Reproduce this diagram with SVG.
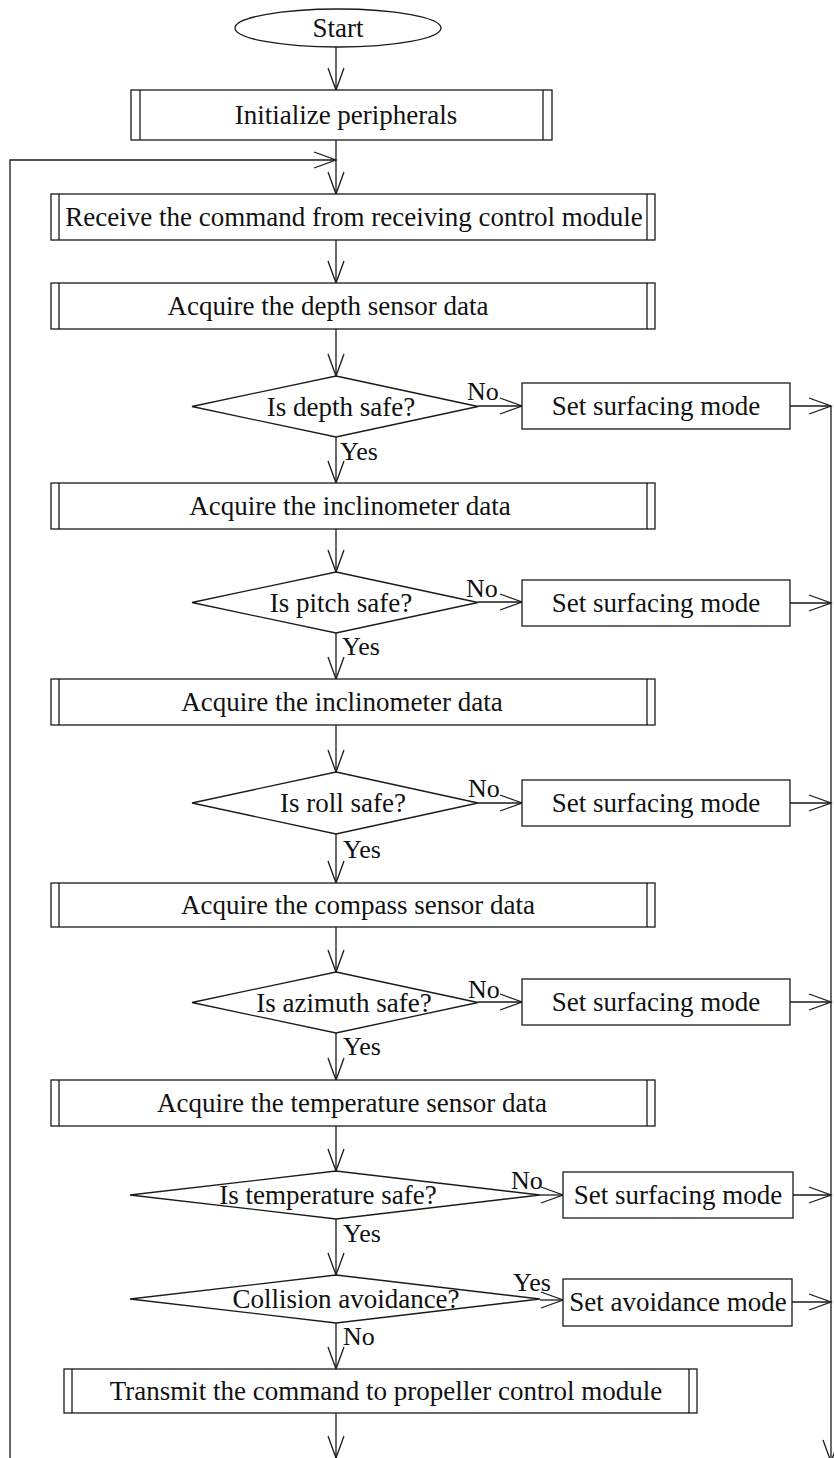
<svg xmlns="http://www.w3.org/2000/svg" width="834" height="1458" viewBox="0 0 834 1458">
  <defs>
    <style>
      .shape { fill: #ffffff; stroke: #1a1a1a; stroke-width: 1.3; }
      .bar { fill: none; stroke: #1a1a1a; stroke-width: 1.3; }
      .txt { font-family: "Liberation Serif", "Times New Roman", serif; font-size: 27px; fill: #111111; text-anchor: middle; }
      .lbl { font-family: "Liberation Serif", "Times New Roman", serif; font-size: 26px; fill: #111111; }
      .conn { fill: none; stroke: #1a1a1a; stroke-width: 1.3; }
    </style>
    <marker id="arrow" markerUnits="userSpaceOnUse" markerWidth="30" markerHeight="20" viewBox="-24 -10 30 20" refX="0" refY="0" orient="auto" overflow="visible">
      <path d="M-22,-8 L0,0 L-22,8" fill="none" stroke="#1a1a1a" stroke-width="1.3"/>
    </marker>
  </defs>

  <rect x="0" y="0" width="834" height="1458" fill="#ffffff"/>

  <!-- connectors -->
  <g id="connectors" class="conn">
    <line x1="336" y1="47" x2="336" y2="90" marker-end="url(#arrow)"/>
    <line x1="336" y1="140" x2="336" y2="194" marker-end="url(#arrow)"/>
    <polyline points="10,1458 10,160 336,160" marker-end="url(#arrow)"/>
    <line x1="336" y1="240" x2="336" y2="283" marker-end="url(#arrow)"/>
    <line x1="336" y1="329" x2="336" y2="376" marker-end="url(#arrow)"/>
    <line x1="336" y1="437" x2="336" y2="483" marker-end="url(#arrow)"/>
    <line x1="336" y1="529" x2="336" y2="572" marker-end="url(#arrow)"/>
    <line x1="336" y1="633" x2="336" y2="679" marker-end="url(#arrow)"/>
    <line x1="336" y1="725" x2="336" y2="772" marker-end="url(#arrow)"/>
    <line x1="336" y1="834" x2="336" y2="883" marker-end="url(#arrow)"/>
    <line x1="336" y1="927" x2="336" y2="972" marker-end="url(#arrow)"/>
    <line x1="336" y1="1033" x2="336" y2="1080" marker-end="url(#arrow)"/>
    <line x1="336" y1="1126" x2="336" y2="1171" marker-end="url(#arrow)"/>
    <line x1="336" y1="1219" x2="336" y2="1275" marker-end="url(#arrow)"/>
    <line x1="336" y1="1323" x2="336" y2="1369" marker-end="url(#arrow)"/>
    <line x1="336" y1="1413" x2="336" y2="1458" marker-end="url(#arrow)"/>

    <!-- branches to the mode boxes -->
    <line x1="478" y1="406" x2="522" y2="406" marker-end="url(#arrow)"/>
    <line x1="478" y1="602" x2="522" y2="602" marker-end="url(#arrow)"/>
    <line x1="478" y1="803" x2="522" y2="803" marker-end="url(#arrow)"/>
    <line x1="478" y1="1002" x2="522" y2="1002" marker-end="url(#arrow)"/>
    <line x1="540" y1="1195" x2="563" y2="1195" marker-end="url(#arrow)"/>
    <line x1="540" y1="1300" x2="563" y2="1300" marker-end="url(#arrow)"/>

    <!-- mode boxes into the right-hand return line -->
    <line x1="790" y1="406" x2="831" y2="406" marker-end="url(#arrow)"/>
    <line x1="790" y1="603" x2="831" y2="603" marker-end="url(#arrow)"/>
    <line x1="790" y1="803" x2="831" y2="803" marker-end="url(#arrow)"/>
    <line x1="790" y1="1002" x2="831" y2="1002" marker-end="url(#arrow)"/>
    <line x1="793" y1="1195" x2="831" y2="1195" marker-end="url(#arrow)"/>
    <line x1="792" y1="1302" x2="831" y2="1302" marker-end="url(#arrow)"/>
    <line x1="831" y1="406" x2="831" y2="1462" marker-end="url(#arrow)"/>
  </g>

  <!-- terminal -->
  <g id="start">
    <ellipse class="shape" cx="338" cy="28" rx="103" ry="19"/>
    <text class="txt" x="338" y="37">Start</text>
  </g>

  <!-- predefined processes -->
  <g id="init">
    <rect class="shape" x="131" y="90" width="421" height="50"/>
    <line class="bar" x1="140" y1="90" x2="140" y2="140"/>
    <line class="bar" x1="543" y1="90" x2="543" y2="140"/>
    <text class="txt" x="346" y="124">Initialize peripherals</text>
  </g>

  <g id="receive">
    <rect class="shape" x="51" y="194" width="604" height="46"/>
    <line class="bar" x1="59" y1="194" x2="59" y2="240"/>
    <line class="bar" x1="647" y1="194" x2="647" y2="240"/>
    <text class="txt" x="354" y="226">Receive the command from receiving control module</text>
  </g>

  <g id="depth-data">
    <rect class="shape" x="51" y="283" width="604" height="46"/>
    <line class="bar" x1="59" y1="283" x2="59" y2="329"/>
    <line class="bar" x1="647" y1="283" x2="647" y2="329"/>
    <text class="txt" x="328" y="315">Acquire the depth sensor data</text>
  </g>

  <g id="depth-check">
    <polygon class="shape" points="336,376 478,406.5 336,437 192,406.5"/>
    <text class="txt" x="341" y="416">Is depth safe?</text>
    <text class="lbl" x="467" y="400">No</text>
    <text class="lbl" x="340" y="460">Yes</text>
  </g>
  <g id="surface-1">
    <rect class="shape" x="522" y="383" width="268" height="46"/>
    <text class="txt" x="656" y="415">Set surfacing mode</text>
  </g>

  <g id="incl-data-1">
    <rect class="shape" x="51" y="483" width="604" height="46"/>
    <line class="bar" x1="59" y1="483" x2="59" y2="529"/>
    <line class="bar" x1="647" y1="483" x2="647" y2="529"/>
    <text class="txt" x="350" y="515">Acquire the inclinometer data</text>
  </g>

  <g id="pitch-check">
    <polygon class="shape" points="336,572 478,602.5 336,633 192,602.5"/>
    <text class="txt" x="341" y="612">Is pitch safe?</text>
    <text class="lbl" x="466" y="597">No</text>
    <text class="lbl" x="342" y="655">Yes</text>
  </g>
  <g id="surface-2">
    <rect class="shape" x="522" y="580" width="268" height="46"/>
    <text class="txt" x="656" y="612">Set surfacing mode</text>
  </g>

  <g id="incl-data-2">
    <rect class="shape" x="51" y="679" width="604" height="46"/>
    <line class="bar" x1="59" y1="679" x2="59" y2="725"/>
    <line class="bar" x1="647" y1="679" x2="647" y2="725"/>
    <text class="txt" x="342" y="711">Acquire the inclinometer data</text>
  </g>

  <g id="roll-check">
    <polygon class="shape" points="336,772 478,803 336,834 192,803"/>
    <text class="txt" x="343" y="812">Is roll safe?</text>
    <text class="lbl" x="468" y="797">No</text>
    <text class="lbl" x="343" y="858">Yes</text>
  </g>
  <g id="surface-3">
    <rect class="shape" x="522" y="780" width="268" height="46"/>
    <text class="txt" x="656" y="812">Set surfacing mode</text>
  </g>

  <g id="compass-data">
    <rect class="shape" x="51" y="883" width="604" height="44"/>
    <line class="bar" x1="59" y1="883" x2="59" y2="927"/>
    <line class="bar" x1="647" y1="883" x2="647" y2="927"/>
    <text class="txt" x="358" y="914">Acquire the compass sensor data</text>
  </g>

  <g id="azimuth-check">
    <polygon class="shape" points="336,972 478,1002.5 336,1033 192,1002.5"/>
    <text class="txt" x="344" y="1012">Is azimuth safe?</text>
    <text class="lbl" x="468" y="998">No</text>
    <text class="lbl" x="343" y="1055">Yes</text>
  </g>
  <g id="surface-4">
    <rect class="shape" x="522" y="979" width="268" height="46"/>
    <text class="txt" x="656" y="1011">Set surfacing mode</text>
  </g>

  <g id="temp-data">
    <rect class="shape" x="51" y="1080" width="604" height="46"/>
    <line class="bar" x1="59" y1="1080" x2="59" y2="1126"/>
    <line class="bar" x1="647" y1="1080" x2="647" y2="1126"/>
    <text class="txt" x="352" y="1112">Acquire the temperature sensor data</text>
  </g>

  <g id="temp-check">
    <polygon class="shape" points="336,1171 540,1195 336,1219 130,1195"/>
    <text class="txt" x="328" y="1204">Is temperature safe?</text>
    <text class="lbl" x="511" y="1189">No</text>
    <text class="lbl" x="343" y="1242">Yes</text>
  </g>
  <g id="surface-5">
    <rect class="shape" x="563" y="1172" width="230" height="46"/>
    <text class="txt" x="678" y="1204">Set surfacing mode</text>
  </g>

  <g id="collision-check">
    <polygon class="shape" points="336,1275 540,1299 336,1323 130,1299"/>
    <text class="txt" x="346" y="1308">Collision avoidance?</text>
    <text class="lbl" x="513" y="1291">Yes</text>
    <text class="lbl" x="343" y="1345">No</text>
  </g>
  <g id="avoid">
    <rect class="shape" x="563" y="1279" width="229" height="47"/>
    <text class="txt" x="678" y="1311">Set avoidance mode</text>
  </g>

  <g id="transmit">
    <rect class="shape" x="64" y="1369" width="633" height="44"/>
    <line class="bar" x1="72" y1="1369" x2="72" y2="1413"/>
    <line class="bar" x1="689" y1="1369" x2="689" y2="1413"/>
    <text class="txt" x="386" y="1400">Transmit the command to propeller control module</text>
  </g>
</svg>
